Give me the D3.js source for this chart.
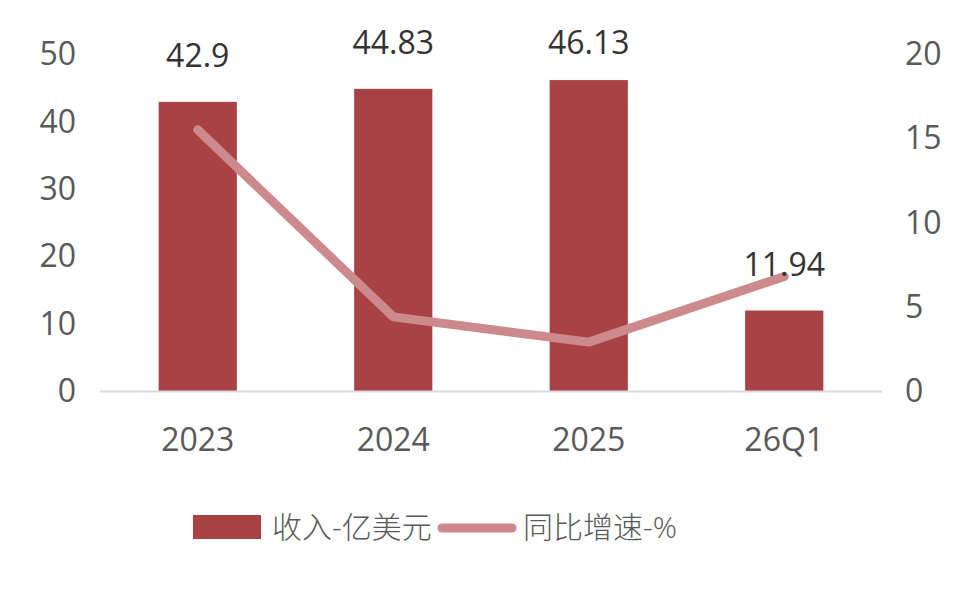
<!DOCTYPE html>
<html>
<head>
<meta charset="utf-8">
<script src="https://cdn.jsdelivr.net/npm/d3@7"></script>
<style>
  body { margin: 0; background: #fff; }
  text { font-family: "Open Sans", "Noto Sans CJK SC", sans-serif; fill: #595959; }
</style>
</head>
<body>
<div id="chart"></div>
<script>
// data
const categories = ["2023", "2024", "2025", "26Q1"];
const revenue = [42.9, 44.83, 46.13, 11.94];
const growth = [15.5, 4.4, 2.9, 6.8];
const leftTicks = [0, 10, 20, 30, 40, 50];
const rightTicks = [0, 5, 10, 15, 20];
const legendLabels = ["收入-亿美元", "同比增速-%"];

const width = 980, height = 593;
const margin = {top: 54, right: 98, bottom: 202, left: 100};
const barColor = "#a84244", lineColor = "#cd8a8c";
const fontSize = "32px";

const svg = d3.select("#chart").append("svg")
    .attr("width", width)
    .attr("height", height);

let x = d3.scaleBand()
    .domain(categories)
    .range([margin.left, width - margin.right])
    .paddingInner(0.6)
    .paddingOuter(0.3);

let yLeft = d3.scaleLinear()
    .domain([0, 50])
    .range([height - margin.bottom, margin.top]);

let yRight = d3.scaleLinear()
    .domain([0, 20])
    .range([height - margin.bottom, margin.top]);

// left axis labels
svg.append("g")
    .selectAll("text")
    .data(leftTicks)
    .enter()
    .append("text")
    .attr("x", 76)
    .attr("y", d => yLeft(d))
    .attr("dy", "0.35em")
    .attr("text-anchor", "end")
    .style("font-size", fontSize)
    .text(d => d);

// right axis labels
svg.append("g")
    .selectAll("text")
    .data(rightTicks)
    .enter()
    .append("text")
    .attr("x", 905)
    .attr("y", d => yRight(d))
    .attr("dy", "0.35em")
    .attr("text-anchor", "start")
    .style("font-size", fontSize)
    .text(d => d);

// bars
svg.append("g")
    .selectAll("rect")
    .data(revenue)
    .enter()
    .append("rect")
    .attr("x", (d, i) => x(categories[i]))
    .attr("y", d => yLeft(d))
    .attr("width", x.bandwidth())
    .attr("height", d => yLeft(0) - yLeft(d))
    .attr("fill", barColor);

// baseline
svg.append("line")
    .attr("x1", margin.left)
    .attr("x2", width - margin.right)
    .attr("y1", yLeft(0) + 0.5)
    .attr("y2", yLeft(0) + 0.5)
    .attr("stroke", "#d9d9d9")
    .attr("stroke-width", 2);

// growth line
let line = d3.line()
    .x((d, i) => x(categories[i]) + x.bandwidth() / 2)
    .y(d => yRight(d));

svg.append("path")
    .datum(growth)
    .attr("d", line)
    .attr("fill", "none")
    .attr("stroke", lineColor)
    .attr("stroke-width", 9)
    .attr("stroke-linecap", "round")
    .attr("stroke-linejoin", "round");

// bar labels
svg.append("g")
    .selectAll("text")
    .data(revenue)
    .enter()
    .append("text")
    .attr("x", (d, i) => x(categories[i]) + x.bandwidth() / 2)
    .attr("y", d => Math.max(yLeft(d) - 35, 54))
    .attr("text-anchor", "middle")
    .style("font-size", fontSize)
    .style("fill", "#333333")
    .text(d => d);

// x labels
svg.append("g")
    .selectAll("text")
    .data(categories)
    .enter()
    .append("text")
    .attr("x", d => x(d) + x.bandwidth() / 2)
    .attr("y", 451)
    .attr("text-anchor", "middle")
    .style("font-size", fontSize)
    .text(d => d);

// legend
let legend = svg.append("g");
legend.append("rect")
    .attr("x", 193).attr("y", 515)
    .attr("width", 68).attr("height", 24)
    .attr("fill", barColor);
legend.append("text")
    .attr("x", 272).attr("y", 527)
    .attr("dy", "0.35em")
    .style("font-size", "30px")
    .style("font-weight", 300)
    .text(legendLabels[0]);
legend.append("line")
    .attr("x1", 442).attr("x2", 512)
    .attr("y1", 528).attr("y2", 528)
    .attr("stroke", lineColor)
    .attr("stroke-width", 9)
    .attr("stroke-linecap", "round");
legend.append("text")
    .attr("x", 523).attr("y", 527)
    .attr("dy", "0.35em")
    .style("font-size", "30px")
    .style("font-weight", 300)
    .text(legendLabels[1]);
</script>
</body>
</html>
